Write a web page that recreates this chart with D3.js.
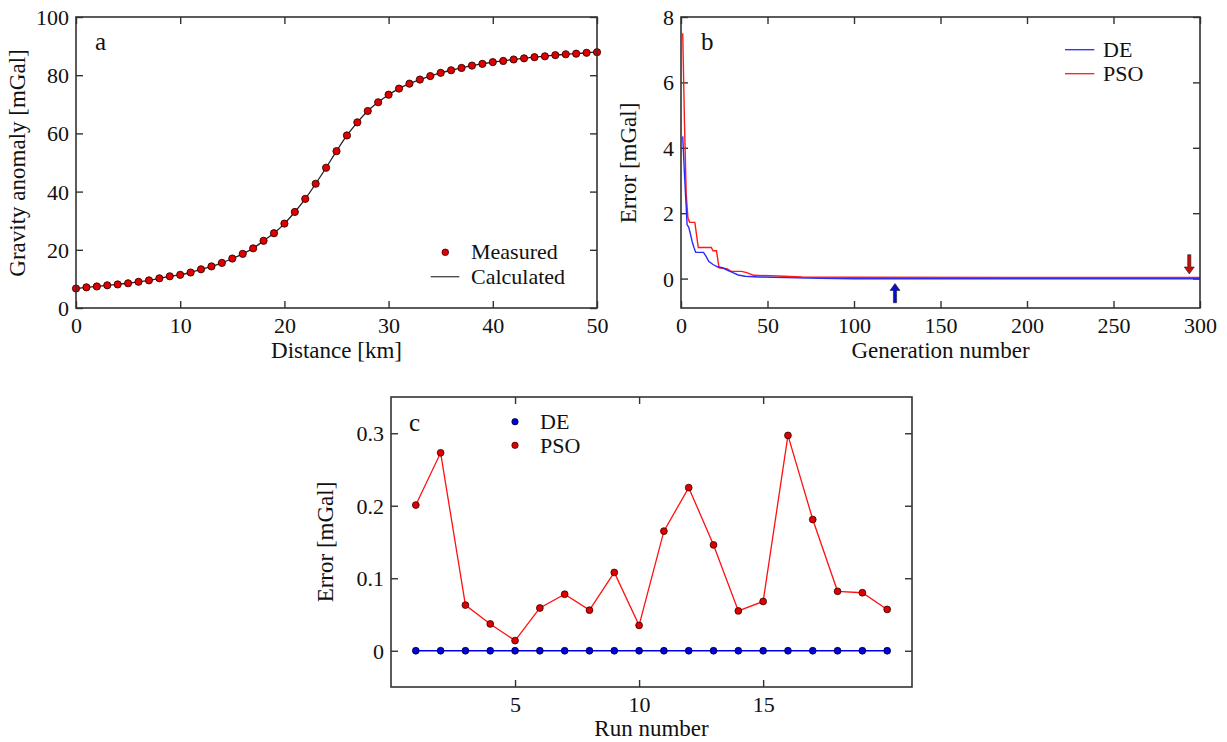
<!DOCTYPE html>
<html><head><meta charset="utf-8">
<script src="https://cdn.jsdelivr.net/npm/d3@7"></script>
<style>
body{margin:0;background:#fff;}
svg text{font-family:"Liberation Serif","Times New Roman",Times,serif;fill:#111;}
</style></head><body>
<svg id="chart" width="1227" height="742" font-family="Liberation Serif, Times New Roman, serif"></svg>
<script>
// ---------- Panel a data ----------
const distanceKm = [0,1,2,3,4,5,6,7,8,9,10,11,12,13,14,15,16,17,18,19,20,21,22,23,24,25,26,27,28,29,30,31,32,33,34,35,36,37,38,39,40,41,42,43,44,45,46,47,48,49,50];
const gravityMeasured = [6.7,7.1,7.4,7.8,8.1,8.5,9.0,9.5,10.2,10.9,11.4,12.2,13.3,14.3,15.5,17.0,18.6,20.5,23.1,25.7,29.0,33.0,37.5,42.7,48.2,53.9,59.3,63.8,67.7,70.7,73.3,75.4,77.1,78.5,79.7,80.8,81.7,82.5,83.3,83.9,84.5,84.9,85.4,85.8,86.2,86.5,86.9,87.2,87.4,87.7,87.9];
const gravityCalculated = [6.7,7.1,7.4,7.8,8.1,8.5,9.0,9.5,10.2,10.9,11.4,12.2,13.3,14.3,15.5,17.0,18.6,20.5,23.1,25.7,29.0,33.0,37.5,42.7,48.2,53.9,59.3,63.8,67.7,70.7,73.3,75.4,77.1,78.5,79.7,80.8,81.7,82.5,83.3,83.9,84.5,84.9,85.4,85.8,86.2,86.5,86.9,87.2,87.4,87.7,87.9];
const aXTicks = [0,10,20,30,40,50];
const aYTicks = [0,20,40,60,80,100];

// ---------- Panel b data ----------
const deGen = [1,2,3,3.5,4.5,5.5,6.5,7.5,8.5,13,14.5,16,18.5,21,24,27,30,33,37,45,60,80,100,300];
const deErr = [4.35,3.2,2.2,1.65,1.57,1.35,1.12,0.95,0.8,0.8,0.68,0.53,0.43,0.36,0.33,0.25,0.18,0.11,0.07,0.05,0.03,0.01,-0.005,-0.005];
const psoGen = [1,2,3,4,5,8,10,17.5,18.5,20.5,22,26.5,29,35,38,42,56,70,100,300];
const psoErr = [7.5,4.8,2.6,1.85,1.72,1.72,0.95,0.95,0.85,0.85,0.33,0.3,0.22,0.22,0.18,0.1,0.08,0.05,0.04,0.035];
const bXTicks = [0,50,100,150,200,250,300];
const bYTicks = [0,2,4,6,8];
const bArrowGen = [123.7, 293.8];
const bArrowTip = [-0.15, 0.14];
const bArrowTail = [-0.74, 0.73];
const bArrowColor = ["#0a0ad0", "#cc0a0a"];

// ---------- Panel c data ----------
const runNumber = [1,2,3,4,5,6,7,8,9,10,11,12,13,14,15,16,17,18,19,20];
const deRunErr = [0,0,0,0,0,0,0,0,0,0,0,0,0,0,0,0,0,0,0,0];
const psoRunErr = [0.201,0.273,0.063,0.037,0.014,0.059,0.078,0.056,0.108,0.035,0.165,0.225,0.146,0.055,0.068,0.297,0.181,0.082,0.080,0.057];
const cXTicks = [5,10,15];
const cYTicks = [0,0.1,0.2,0.3];

const svg = d3.select("#chart");
const FS = 23;   // titles
const LFS = 22;  // legends
const TFS = 22;  // tick labels
const FF = '"Liberation Serif","Times New Roman",serif';

function panel(x0, y0, w, h, xDom, yDom, xTicks, yTicks) {
  const g = svg.append("g").attr("transform", `translate(${x0},${y0})`);
  const x = d3.scaleLinear().domain(xDom).range([0, w]);
  const y = d3.scaleLinear().domain(yDom).range([h, 0]);
  const tl = 7;
  const styleAxis = sel => {
    sel.attr("font-family", null).attr("font-size", null);
    sel.select(".domain").remove();
    sel.selectAll(".tick line").attr("stroke", "#333").attr("stroke-width", 1.4);
    sel.selectAll(".tick text").attr("font-size", TFS).attr("fill", "#111").style("font-family", FF);
  };
  g.append("g").attr("class", "xax").attr("transform", `translate(0,${h})`)
    .call(d3.axisBottom(x).tickValues(xTicks).tickSize(-tl).tickPadding(8).tickFormat(d => d))
    .call(styleAxis)
    .call(s => s.selectAll(".tick text").attr("dy", "0.75em"));
  g.append("g")
    .call(d3.axisTop(x).tickValues(xTicks).tickSize(-tl).tickFormat(""))
    .call(styleAxis);
  g.append("g").attr("class", "yax")
    .call(d3.axisLeft(y).tickValues(yTicks).tickSize(-tl).tickPadding(7).tickFormat(d => d))
    .call(styleAxis)
    .call(s => s.selectAll(".tick text").attr("dy", "0.34em"));
  g.append("g").attr("transform", `translate(${w},0)`)
    .call(d3.axisRight(y).tickValues(yTicks).tickSize(-tl).tickFormat(""))
    .call(styleAxis);
  const id = "clip" + Math.round(x0) + "_" + Math.round(y0);
  g.append("clipPath").attr("id", id).append("rect").attr("width", w).attr("height", h);
  const plot = g.append("g").attr("clip-path", `url(#${id})`);
  const frame = () => g.append("rect").attr("width", w).attr("height", h)
    .attr("fill", "none").attr("stroke", "#333").attr("stroke-width", 1.6);
  return {g, plot, x, y, w, h, frame};
}

function txt(parent, x, y, s, size, anchor) {
  return parent.append("text").attr("x", x).attr("y", y).attr("font-size", size)
    .attr("text-anchor", anchor || "start").style("font-family", FF).text(s);
}

// ================= Panel a =================
{
  const p = panel(76, 17, 521, 291, [0, 50], [0, 100], aXTicks, aYTicks);
  const line = d3.line().x((d, i) => p.x(distanceKm[i])).y(d => p.y(d)).curve(d3.curveMonotoneX);
  p.plot.append("path").datum(gravityCalculated).attr("d", line)
    .attr("fill", "none").attr("stroke", "#222").attr("stroke-width", 1.3);
  p.g.selectAll("circle.m").data(gravityMeasured).join("circle").attr("class", "m")
    .attr("cx", (d, i) => p.x(distanceKm[i])).attr("cy", d => p.y(d)).attr("r", 3.6)
    .attr("fill", "#e00000").attr("stroke", "#300").attr("stroke-width", 0.9);
  p.frame();
  txt(p.g, 19, 33, "a", 25);
  // legend
  p.g.append("circle").attr("cx", 369.3).attr("cy", 235.3).attr("r", 3.3)
    .attr("fill", "#e00000").attr("stroke", "#300").attr("stroke-width", 0.8);
  p.g.append("line").attr("x1", 354.7).attr("x2", 383.3).attr("y1", 259.7).attr("y2", 259.7)
    .attr("stroke", "#444").attr("stroke-width", 1.3);
  txt(p.g, 395, 241.5, "Measured", LFS);
  txt(p.g, 395, 266.5, "Calculated", LFS);
  // axis titles
  txt(svg, 336.5, 358, "Distance [km]", FS, "middle");
  txt(svg, 0, 0, "Gravity anomaly [mGal]", FS, "middle").attr("transform", "translate(25,163) rotate(-90)");
}

// ================= Panel b =================
{
  const p = panel(681, 17, 519, 291, [0, 300], [-0.9, 8], bXTicks, bYTicks);
  const lineDE = d3.line().x((d, i) => p.x(deGen[i])).y(d => p.y(d));
  const linePSO = d3.line().x((d, i) => p.x(psoGen[i])).y(d => p.y(d));
  p.plot.append("path").datum(psoErr).attr("d", linePSO)
    .attr("fill", "none").attr("stroke", "#ff1a1a").attr("stroke-width", 1.4);
  p.plot.append("path").datum(deErr).attr("d", lineDE)
    .attr("fill", "none").attr("stroke", "#2a2aff").attr("stroke-width", 1.4);
  // arrows
  bArrowGen.forEach((gv, i) => {
    const xc = p.x(gv), yt = p.y(bArrowTip[i]), yb = p.y(bArrowTail[i]);
    const dir = yb > yt ? 1 : -1;
    const hw = 5, hh = 7, sw = 1.6;
    const pts = [[xc, yt], [xc + hw, yt + dir * hh], [xc + sw, yt + dir * hh], [xc + sw, yb], [xc - sw, yb], [xc - sw, yt + dir * hh], [xc - hw, yt + dir * hh]];
    p.g.append("path").attr("d", d3.line()(pts) + "Z")
      .attr("fill", bArrowColor[i]).attr("stroke", "#222").attr("stroke-width", 0.6);
  });
  p.frame();
  txt(p.g, 20, 33, "b", 25);
  // legend
  p.g.append("line").attr("x1", 384).attr("x2", 413.3).attr("y1", 32.7).attr("y2", 32.7).attr("stroke", "#2a2aff").attr("stroke-width", 1.3);
  p.g.append("line").attr("x1", 384).attr("x2", 413.3).attr("y1", 56.7).attr("y2", 56.7).attr("stroke", "#ff1a1a").attr("stroke-width", 1.3);
  txt(p.g, 422, 39.5, "DE", LFS);
  txt(p.g, 422, 64, "PSO", LFS);
  txt(svg, 940.5, 358, "Generation number", FS, "middle");
  txt(svg, 0, 0, "Error [mGal]", FS, "middle").attr("transform", "translate(636,163) rotate(-90)");
}

// ================= Panel c =================
{
  const p = panel(391, 397, 521, 290, [0, 21], [-0.05, 0.35], cXTicks, cYTicks);
  const lineRun = d3.line().x((d, i) => p.x(runNumber[i])).y(d => p.y(d));
  p.plot.append("path").datum(psoRunErr).attr("d", lineRun)
    .attr("fill", "none").attr("stroke", "#ff1010").attr("stroke-width", 1.3);
  p.plot.append("path").datum(deRunErr).attr("d", lineRun)
    .attr("fill", "none").attr("stroke", "#0000f0").attr("stroke-width", 1.6);
  p.g.selectAll("circle.de").data(deRunErr).join("circle").attr("class", "de")
    .attr("cx", (d, i) => p.x(runNumber[i])).attr("cy", d => p.y(d)).attr("r", 3.4)
    .attr("fill", "#0000e0").attr("stroke", "#001").attr("stroke-width", 0.8);
  p.g.selectAll("circle.pso").data(psoRunErr).join("circle").attr("class", "pso")
    .attr("cx", (d, i) => p.x(runNumber[i])).attr("cy", d => p.y(d)).attr("r", 3.4)
    .attr("fill", "#e00000").attr("stroke", "#300").attr("stroke-width", 0.8);
  p.frame();
  txt(p.g, 18, 34, "c", 25);
  // legend
  p.g.append("circle").attr("cx", 124).attr("cy", 24.7).attr("r", 3.2).attr("fill", "#0000e0").attr("stroke", "#001").attr("stroke-width", 0.7);
  p.g.append("circle").attr("cx", 124).attr("cy", 48.3).attr("r", 3.2).attr("fill", "#e00000").attr("stroke", "#300").attr("stroke-width", 0.7);
  txt(p.g, 149, 31.5, "DE", LFS);
  txt(p.g, 149, 56, "PSO", LFS);
  txt(svg, 651.5, 736, "Run number", FS, "middle");
  txt(svg, 0, 0, "Error [mGal]", FS, "middle").attr("transform", "translate(333,542) rotate(-90)");
}
</script>
</body></html>
